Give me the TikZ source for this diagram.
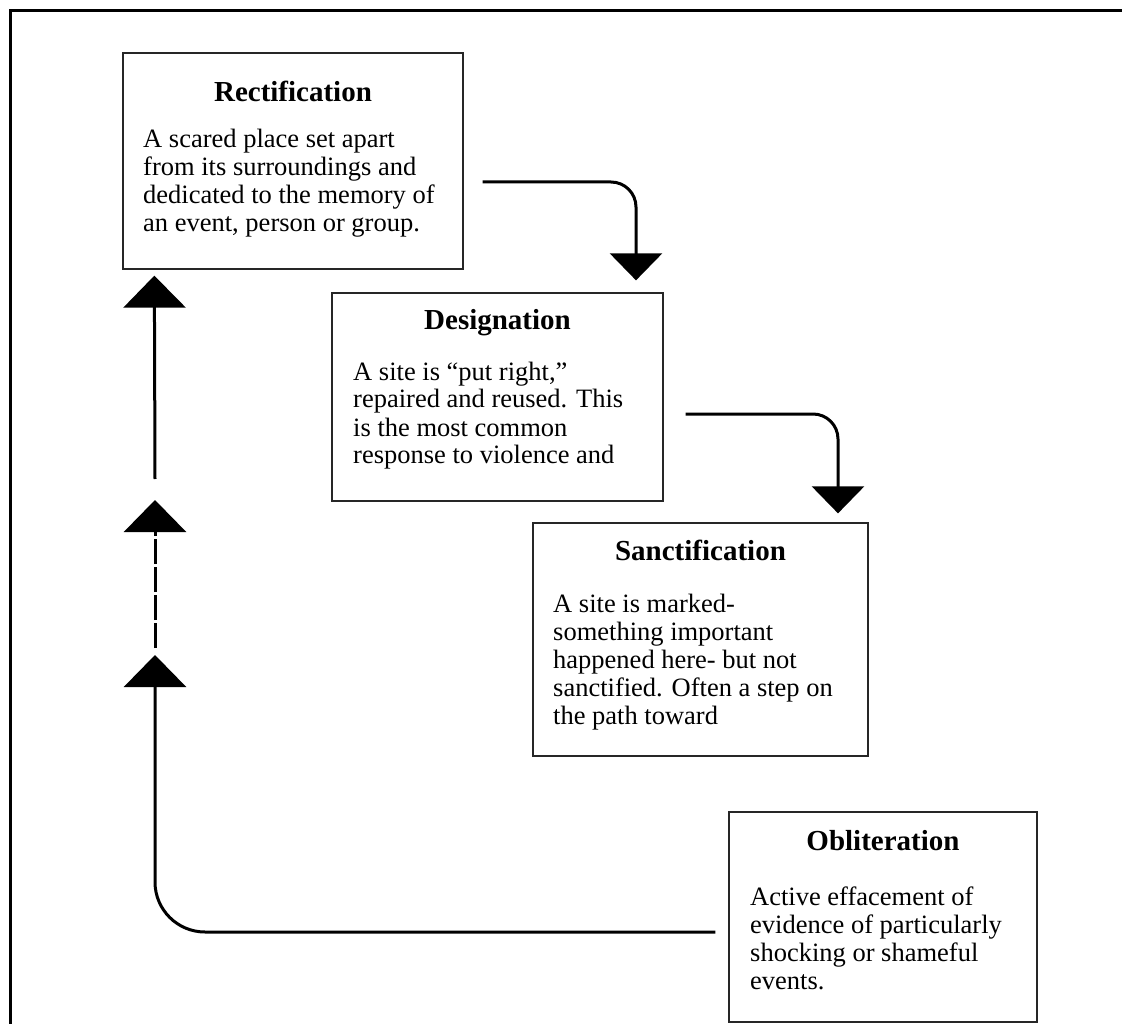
\documentclass[tikz,border=0pt]{standalone}
\usepackage{fontspec}
\setmainfont{Liberation Serif}
\usetikzlibrary{arrows.meta}
\begin{document}
\begin{tikzpicture}[x=1pt,y=-1pt,
  stage/.style={draw=black!85, line width=1.3pt, inner sep=0pt, fill=white},
  heading/.style={anchor=base, inner sep=0pt, font=\fontsize{29}{34}\selectfont\bfseries},
  body/.style={anchor=base west, inner sep=0pt, font=\fontsize{26.5}{28}\selectfont},
  flow/.style={line width=3pt, rounded corners=25pt},
  downtip/.style={-{Triangle[width=52pt,length=27pt]}},
  uptip/.style={-{Triangle[width=62pt,length=32pt]}},
]
\useasboundingbox (0,0) rectangle (1122,1024);

% outer frame (only its top and left sides fall on the page)
\draw[line width=3pt] (1130,11) -- (10,11) -- (10,1030);

% stage boxes
\node[stage, minimum width=340pt, minimum height=216pt] (rect)   at (293,161)   {};
\node[stage, minimum width=331pt, minimum height=208pt] (desig)  at (497.5,397) {};
\node[stage, minimum width=335pt, minimum height=233pt] (sanct)  at (700.5,639.5) {};
\node[stage, minimum width=308pt, minimum height=210pt] (oblit)  at (883,917)   {};

% headings
\node[heading] (rectT)  at (293,102)   {Rectification};
\node[heading] (desigT) at (497.5,330) {Designation};
\node[heading] (sanctT) at (700.5,560) {Sanctification};
\node[heading] (oblitT) at (883,850)   {Obliteration};

% descriptions
\node[body] (rectB) at (143,148) {\parbox[t]{320pt}{\raggedright
  A scared place set apart\\from its surroundings and\\dedicated to the memory of\\an event, person or group.}};
\node[body] (desigB) at (353,380) {\parbox[t]{310pt}{\raggedright
  A site is “put right,”\\repaired and reused. This\\is the most common\\response to violence and}};
\node[body] (sanctB) at (553,612) {\parbox[t]{315pt}{\raggedright
  A site is marked-\\something important\\happened here- but not\\sanctified. Often a step on\\the path toward}};
\node[body] (oblitB) at (750,905) {\parbox[t]{285pt}{\raggedright
  Active effacement of\\evidence of particularly\\shocking or shameful\\events.}};

% forward connectors
\draw[flow, downtip] ([shift={(19,21)}]rect.east) -| ([shift={(138.5,-12)}]desig.north);
\draw[flow, downtip] ([shift={(22,17)}]desig.east) -| ([shift={(137.5,-9)}]sanct.north);

% return path on the left
\coordinate (lowtip)  at (155,655);
\coordinate (dashlow) at (155,648);
\coordinate (dashtip) at (155,500);
\coordinate (toplow)  at (155,479);
\draw[flow, rounded corners=50pt, uptip] ([shift={(-13,15)}]oblit.west) -| (lowtip);
\draw[line width=3pt, dash pattern=on 25pt off 3pt, uptip] (dashlow) -- (dashtip);
\draw[line width=3pt, uptip] (toplow) -- ([shift={(32,6)}]rect.south west);
\end{tikzpicture}
\end{document}
